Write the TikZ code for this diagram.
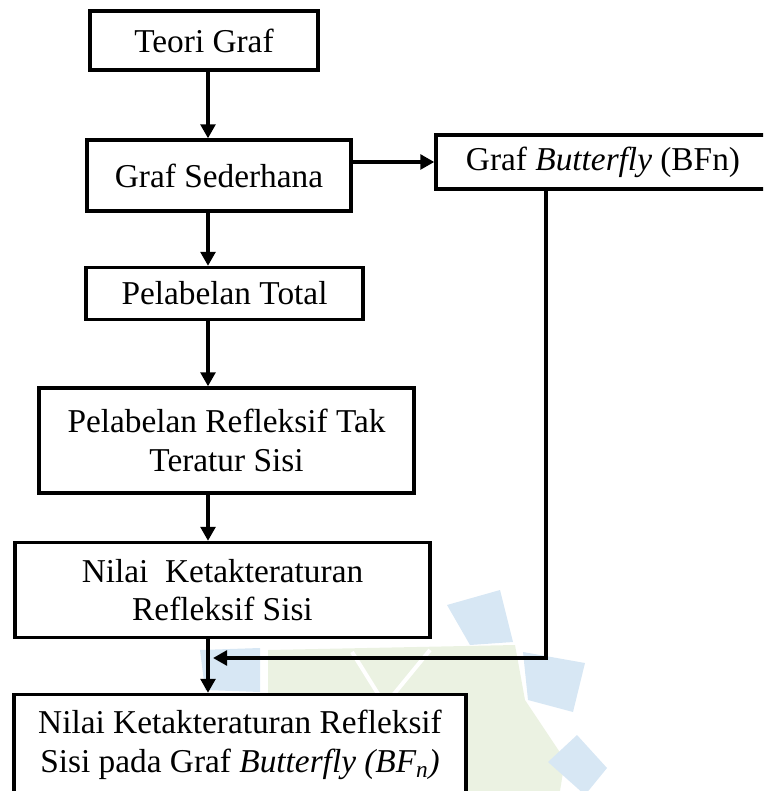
\documentclass[tikz,border=0pt]{standalone}
\usepackage{fontspec}
\setmainfont{Liberation Serif}
\usetikzlibrary{arrows.meta}

\definecolor{wmblue}{HTML}{D7E7F4}
\definecolor{wmgreen}{HTML}{EBF2E2}

\begin{document}
\begin{tikzpicture}[
  x=0.75pt, y=-0.75pt,
  every node/.style={font=\fontsize{25}{29}\selectfont},
  blok/.style={
    rectangle, draw=black, fill=white,
    line width=2.5pt, inner sep=2pt,
    align=center},
  arr/.style={
    -{Triangle[length=10.5pt,width=11pt]},
    draw=black, line width=3.2pt},
  wm/.style={line width=0pt},
]

\useasboundingbox (0,0) rectangle (763,791);
\clip (0,0) rectangle (763,791);

% watermark behind the chart
\fill[wmgreen, wm] (268,650) -- (515,645) -- (525,700) -- (565,760)
  -- (560,791) -- (268,791) -- cycle;
\draw[white, line width=3pt] (352,652) -- (385,705) -- (430,650);
\draw[white, line width=3pt] (385,705) -- (395,791);
\fill[wmblue, wm] (447,605) -- (500,590) -- (513,642) -- (470,645) -- cycle;
\fill[wmblue, wm] (523,652) -- (585,663) -- (573,712) -- (528,700) -- cycle;
\fill[wmblue, wm] (548,762) -- (577,735) -- (607,768) -- (585,795) -- cycle;
\fill[wmblue, wm] (200,650) -- (260,648) -- (260,692) -- (205,690) -- cycle;

\node[blok, minimum width=171pt, minimum height=44.25pt] (teori)
  at (204, 40.5) {Teori Graf};

\node[blok, minimum width=198pt, minimum height=53.25pt] (sederhana)
  at (219, 175.5) {Graf Sederhana};

\node[blok, minimum width=250.5pt, minimum height=40.5pt] (butterfly)
  at (603, 162) {Graf \textit{Butterfly} (BFn)};

\node[blok, minimum width=207.75pt, minimum height=39pt] (total)
  at (224.5, 293.5) {Pelabelan Total};

\node[blok, minimum width=281.25pt, minimum height=78.75pt] (refleksif)
  at (226.5, 440.5) {Pelabelan Refleksif Tak\\Teratur Sisi};

\node[blok, minimum width=311.25pt, minimum height=71.25pt] (ketak)
  at (222.5, 590) {Nilai~ Ketakteraturan\\Refleksif Sisi};

\node[blok, minimum width=339pt, minimum height=75.75pt] (final)
  at (240, 745)
  {Nilai Ketakteraturan Refleksif\\Sisi pada Graf \textit{Butterfly (BF\textsubscript{n})}};

\coordinate (spine) at (208, 0);
\coordinate (belok) at (546, 658);
\coordinate (gabung) at (213, 658);

\draw[arr] (teori.south -| spine) -- (sederhana.north -| spine);
\draw[arr] (sederhana.east |- butterfly.west) -- (butterfly.west);
\draw[arr] (sederhana.south -| spine) -- (total.north -| spine);
\draw[arr] (total.south -| spine) -- (refleksif.north -| spine);
\draw[arr] (refleksif.south -| spine) -- (ketak.north -| spine);
\draw[arr] (ketak.south -| spine) -- (final.north -| spine);

\draw[arr] (butterfly.south -| belok) -- (belok) -- (gabung);

\end{tikzpicture}
\end{document}
